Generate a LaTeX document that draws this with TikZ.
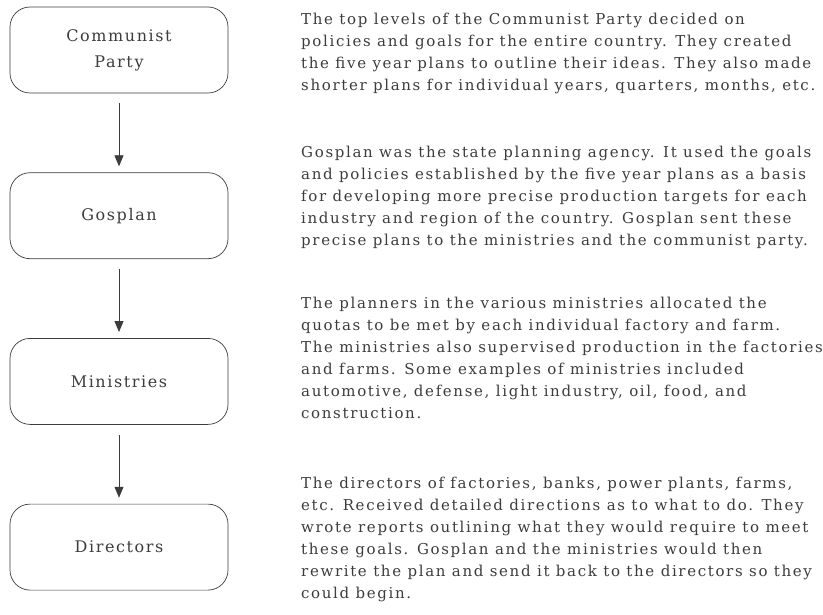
\documentclass[tikz,border=0pt]{standalone}
\usepackage{fontspec}
\setmainfont{DejaVu Serif}
\newfontfamily\spreadfont[LetterSpace=10]{DejaVu Serif}
\newfontfamily\widefont[LetterSpace=11]{DejaVu Serif}
\usetikzlibrary{positioning,arrows.meta}
\definecolor{inkgrey}{RGB}{60,60,60}
\tikzset{
stage/.style={draw=inkgrey, line width=0.7pt, rounded corners=20pt, minimum width=218pt, minimum height=86pt, align=center, text=inkgrey, font=\spreadfont\fontsize{16}{26}\selectfont},
note/.style={anchor=north west, inner sep=0pt, align=left, text=inkgrey, font=\widefont\fontsize{15}{22}\selectfont},
flow/.style={draw=inkgrey, line width=0.7pt, -{Triangle[length=11pt,width=9pt]}, shorten <=10pt, shorten >=6pt},
}
\begin{document}
\begin{tikzpicture}[x=1pt, y=-1pt, node distance=79pt]
\useasboundingbox (0,0) rectangle (823,615);
% the chain of planning bodies
\node [stage] (party) at (119,50) {Communist\\Party};
\node [stage, below=of party] (gosplan) {Gosplan};
\node [stage, below=of gosplan] (ministries) {Ministries};
\node [stage, below=of ministries] (directors) {Directors};
\draw [flow] (party) -- (gosplan);
\draw [flow] (gosplan) -- (ministries);
\draw [flow] (ministries) -- (directors);
% explanations on the right
\node [note] (party-note) at (301,12.6) {The top levels of the Communist Party decided on\\policies and goals for the entire country. They created\\the five year plans to outline their ideas. They also made\\shorter plans for individual years, quarters, months, etc.};
\node [note] (gosplan-note) at (301,145.6) {Gosplan was the state planning agency. It used the goals\\and policies established by the five year plans as a basis\\for developing more precise production targets for each\\industry and region of the country. Gosplan sent these\\precise plans to the ministries and the communist party.};
\node [note] (ministries-note) at (301,296.6) {The planners in the various ministries allocated the\\quotas to be met by each individual factory and farm.\\The ministries also supervised production in the factories\\and farms. Some examples of ministries included\\automotive, defense, light industry, oil, food, and\\construction.};
\node [note] (directors-note) at (301,476.6) {The directors of factories, banks, power plants, farms,\\etc. Received detailed directions as to what to do. They\\wrote reports outlining what they would require to meet\\these goals. Gosplan and the ministries would then\\rewrite the plan and send it back to the directors so they\\could begin.};
\end{tikzpicture}
\end{document}
